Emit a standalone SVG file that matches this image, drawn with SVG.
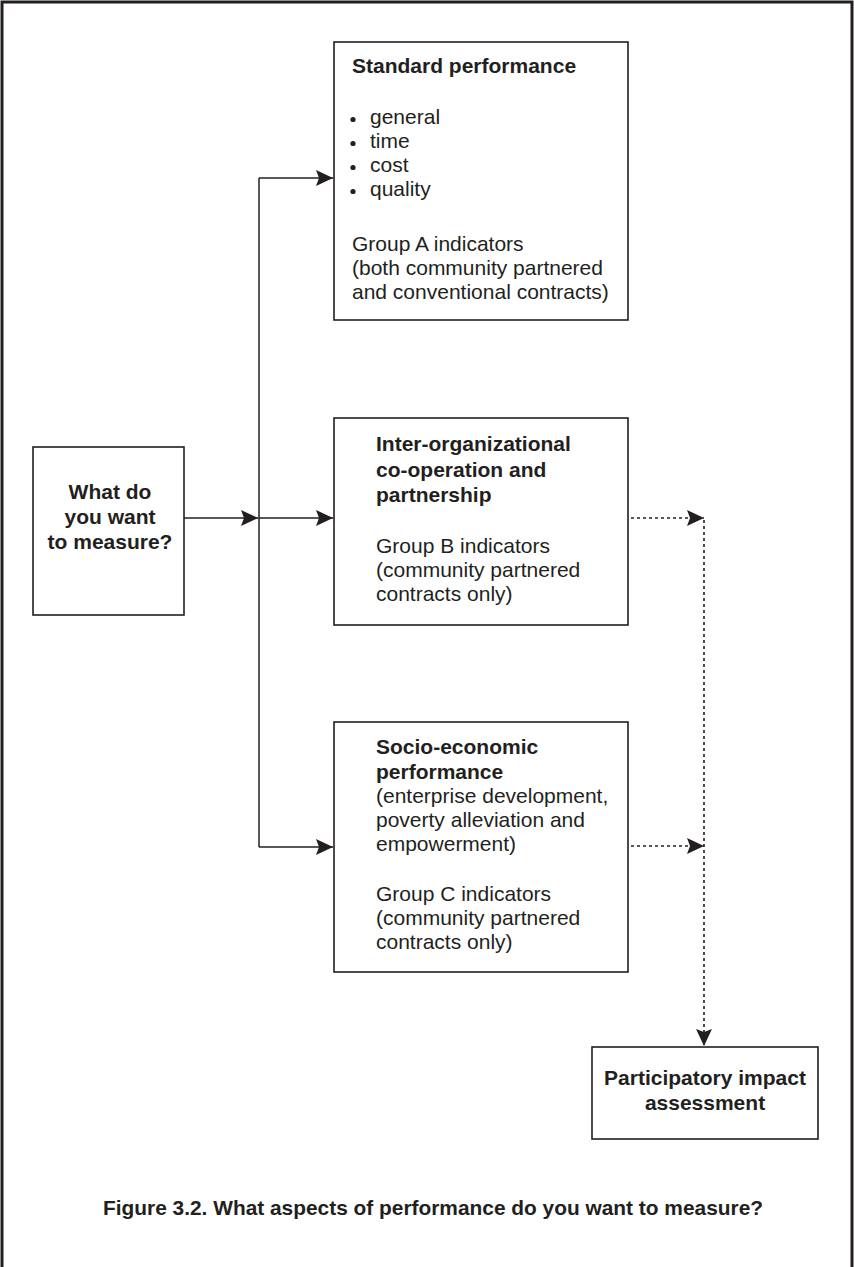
<svg xmlns="http://www.w3.org/2000/svg" width="854" height="1267" viewBox="0 0 854 1267">
<style>
.box{fill:#fff;stroke:#231f20;stroke-width:1.6}
.t{font-family:"Liberation Sans",Arial,sans-serif;font-size:21px;fill:#231f20}
.b{font-weight:bold}
.c{text-anchor:middle}
.ln{fill:none;stroke:#231f20;stroke-width:1.5}
.dot{fill:none;stroke:#231f20;stroke-width:1.6;stroke-dasharray:3 3}
</style>
<defs>
<marker id="ah" markerUnits="userSpaceOnUse" markerWidth="18" markerHeight="16" refX="17" refY="8" orient="auto">
<path d="M0,0 L17,8 L0,16 L3,8 Z" fill="#231f20"/>
</marker>
</defs>
<rect width="854" height="1267" fill="#fff"/>
<path d="M2,1267 V2 H852 V1267" fill="none" stroke="#231f20" stroke-width="3"/>

<g id="connectors">
<line class="ln" x1="184" y1="518" x2="258" y2="518" marker-end="url(#ah)"/>
<line class="ln" x1="259" y1="178" x2="259" y2="847"/>
<line class="ln" x1="259" y1="178" x2="333" y2="178" marker-end="url(#ah)"/>
<line class="ln" x1="259" y1="518" x2="333" y2="518" marker-end="url(#ah)"/>
<line class="ln" x1="259" y1="847" x2="333" y2="847" marker-end="url(#ah)"/>
<line class="dot" x1="631" y1="518" x2="704" y2="518" marker-end="url(#ah)"/>
<line class="dot" x1="631" y1="846" x2="704" y2="846" marker-end="url(#ah)"/>
<line class="dot" x1="704" y1="520" x2="704" y2="1046" marker-end="url(#ah)"/>
</g>

<g id="what">
<rect class="box" x="33" y="447" width="151" height="168"/>
<text class="t b c" x="110" y="499">What do</text>
<text class="t b c" x="110" y="524">you want</text>
<text class="t b c" x="110" y="549">to measure?</text>
</g>

<g id="standard">
<rect class="box" x="334" y="42" width="294" height="278"/>
<text class="t b" x="352" y="73">Standard performance</text>
<circle cx="353" cy="119.5" r="2.6" fill="#231f20"/>
<circle cx="353" cy="143.5" r="2.6" fill="#231f20"/>
<circle cx="353" cy="167.5" r="2.6" fill="#231f20"/>
<circle cx="353" cy="191.5" r="2.6" fill="#231f20"/>
<text class="t" x="370" y="124">general</text>
<text class="t" x="370" y="148">time</text>
<text class="t" x="370" y="172">cost</text>
<text class="t" x="370" y="196">quality</text>
<text class="t" x="352" y="251">Group A indicators</text>
<text class="t" x="352" y="275">(both community partnered</text>
<text class="t" x="352" y="299">and conventional contracts)</text>
</g>

<g id="inter">
<rect class="box" x="334" y="418" width="294" height="207"/>
<text class="t b" x="376" y="451">Inter-organizational</text>
<text class="t b" x="376" y="477">co-operation and</text>
<text class="t b" x="376" y="502">partnership</text>
<text class="t" x="376" y="553">Group B indicators</text>
<text class="t" x="376" y="577">(community partnered</text>
<text class="t" x="376" y="601">contracts only)</text>
</g>

<g id="socio">
<rect class="box" x="334" y="722" width="294" height="250"/>
<text class="t b" x="376" y="754">Socio-economic</text>
<text class="t b" x="376" y="779">performance</text>
<text class="t" x="376" y="803">(enterprise development,</text>
<text class="t" x="376" y="827">poverty alleviation and</text>
<text class="t" x="376" y="851">empowerment)</text>
<text class="t" x="376" y="901">Group C indicators</text>
<text class="t" x="376" y="925">(community partnered</text>
<text class="t" x="376" y="949">contracts only)</text>
</g>

<g id="pia">
<rect class="box" x="592" y="1047" width="226" height="92"/>
<text class="t b c" x="705" y="1085">Participatory impact</text>
<text class="t b c" x="705" y="1110">assessment</text>
</g>

<text class="t b" x="103" y="1215" textLength="660" lengthAdjust="spacingAndGlyphs">Figure 3.2. What aspects of performance do you want to measure?</text>
</svg>
